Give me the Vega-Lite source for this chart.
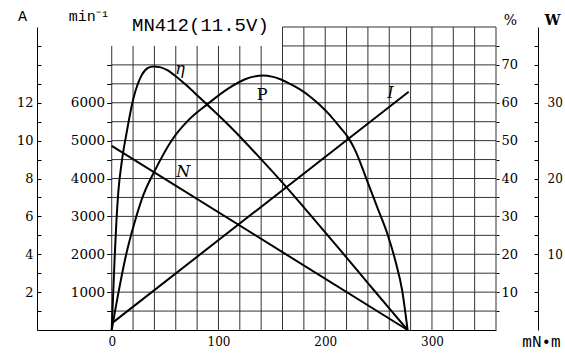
{
  "$schema": "https://vega.github.io/schema/vega-lite/v6.json",
  "width": 459,
  "height": 303,
  "autosize": {"type": "none"},
  "padding": {"left": 37, "top": 27, "right": 69, "bottom": 26},
  "background": "white",
  "config": {
    "view": {"stroke": null},
    "axis": {"labelFont": "DejaVu Serif", "labelColor": "black", "domainColor": "black", "tickColor": "black", "grid": false, "titleColor": "black", "titleFontWeight": "normal"}
  },
  "title": {"text": "MN412(11.5V)", "anchor": "start", "frame": "group", "dx": 95, "dy": 37, "baseline": "alphabetic", "offset": -5, "font": "Liberation Mono", "fontSize": 19, "fontWeight": "normal", "color": "black"},
  "datasets": {
    "grid": [
      {"t0": 0, "t1": 0, "p0": 0, "p1": 75}, {"t0": 20, "t1": 20, "p0": 0, "p1": 75}, {"t0": 40, "t1": 40, "p0": 0, "p1": 75}, {"t0": 60, "t1": 60, "p0": 0, "p1": 75},
      {"t0": 80, "t1": 80, "p0": 0, "p1": 75}, {"t0": 100, "t1": 100, "p0": 0, "p1": 75}, {"t0": 120, "t1": 120, "p0": 0, "p1": 75}, {"t0": 140, "t1": 140, "p0": 0, "p1": 75},
      {"t0": 160, "t1": 160, "p0": 0, "p1": 80}, {"t0": 180, "t1": 180, "p0": 0, "p1": 80}, {"t0": 200, "t1": 200, "p0": 0, "p1": 80}, {"t0": 220, "t1": 220, "p0": 0, "p1": 80},
      {"t0": 240, "t1": 240, "p0": 0, "p1": 80}, {"t0": 260, "t1": 260, "p0": 0, "p1": 80}, {"t0": 280, "t1": 280, "p0": 0, "p1": 80}, {"t0": 300, "t1": 300, "p0": 0, "p1": 80},
      {"t0": 320, "t1": 320, "p0": 0, "p1": 80}, {"t0": 340, "t1": 340, "p0": 0, "p1": 80}, {"t0": 360, "t1": 360, "p0": 0, "p1": 80},
      {"t0": 0, "t1": 360, "p0": 5, "p1": 5}, {"t0": 0, "t1": 360, "p0": 10, "p1": 10}, {"t0": 0, "t1": 360, "p0": 15, "p1": 15}, {"t0": 0, "t1": 360, "p0": 20, "p1": 20},
      {"t0": 0, "t1": 360, "p0": 25, "p1": 25}, {"t0": 0, "t1": 360, "p0": 30, "p1": 30}, {"t0": 0, "t1": 360, "p0": 35, "p1": 35}, {"t0": 0, "t1": 360, "p0": 40, "p1": 40},
      {"t0": 0, "t1": 360, "p0": 45, "p1": 45}, {"t0": 0, "t1": 360, "p0": 50, "p1": 50}, {"t0": 0, "t1": 360, "p0": 55, "p1": 55}, {"t0": 0, "t1": 360, "p0": 60, "p1": 60},
      {"t0": 0, "t1": 360, "p0": 65, "p1": 65}, {"t0": 0, "t1": 360, "p0": 70, "p1": 70}, {"t0": 160, "t1": 360, "p0": 75, "p1": 75}, {"t0": 160, "t1": 360, "p0": 80, "p1": 80}
    ],
    "eff": [
      {"t": 0, "eff": 0}, {"t": 1.5, "eff": 10.6}, {"t": 2.8, "eff": 19.4}, {"t": 4.3, "eff": 28.2}, {"t": 6.2, "eff": 36.5},
      {"t": 9.4, "eff": 44.4}, {"t": 14.1, "eff": 52.3}, {"t": 20.3, "eff": 61.1}, {"t": 28.1, "eff": 67.3}, {"t": 34, "eff": 69.2},
      {"t": 39, "eff": 69.6}, {"t": 45, "eff": 69.4}, {"t": 52, "eff": 68.6}, {"t": 60, "eff": 67.0}, {"t": 70, "eff": 64.6},
      {"t": 80, "eff": 62.0}, {"t": 89, "eff": 59.6}, {"t": 100, "eff": 56.7}, {"t": 112, "eff": 53.4}, {"t": 124, "eff": 49.9},
      {"t": 136, "eff": 46.3}, {"t": 150, "eff": 42.0}, {"t": 164, "eff": 37.6}, {"t": 180, "eff": 32.4}, {"t": 200, "eff": 25.8},
      {"t": 220, "eff": 19.1}, {"t": 240, "eff": 12.4}, {"t": 260, "eff": 5.7}, {"t": 277.2, "eff": 0}
    ],
    "power": [
      {"t": 0, "w": 0}, {"t": 6.8, "w": 5.3}, {"t": 13.1, "w": 9.7}, {"t": 21.2, "w": 14.1}, {"t": 29.6, "w": 17.8},
      {"t": 40.6, "w": 21.1}, {"t": 56.3, "w": 25.05}, {"t": 71.9, "w": 27.7}, {"t": 89.1, "w": 29.75}, {"t": 109.4, "w": 31.9},
      {"t": 125, "w": 33.1}, {"t": 133, "w": 33.45}, {"t": 142, "w": 33.6}, {"t": 150, "w": 33.45}, {"t": 158, "w": 33.1},
      {"t": 167, "w": 32.5}, {"t": 176, "w": 31.8}, {"t": 186, "w": 30.8}, {"t": 195, "w": 29.7}, {"t": 204.8, "w": 28.3},
      {"t": 213, "w": 26.9}, {"t": 222, "w": 25.3}, {"t": 228, "w": 23.75}, {"t": 239, "w": 19.8}, {"t": 248.5, "w": 16.3},
      {"t": 258, "w": 12.8}, {"t": 265.6, "w": 9.2}, {"t": 272, "w": 5.3}, {"t": 277.2, "w": 0}
    ],
    "speed": [
      {"t": 0, "rpm": 4860}, {"t": 277.2, "rpm": 0}
    ],
    "current": [
      {"t": 0, "amp": 0.35}, {"t": 278.2, "amp": 12.58}
    ],
    "labels": [
      {"t": 64, "p": 69, "s": "η"}, {"t": 261, "p": 62.6, "s": "I"}, {"t": 67, "p": 41.7, "s": "N"}
    ],
    "labels2": [
      {"t": 141, "p": 62, "s": "P"}
    ]
  },
  "resolve": {"scale": {"y": "independent"}, "axis": {"y": "independent"}},
  "layer": [
    {
      "data": {"name": "grid"},
      "mark": {"type": "rule", "stroke": "#333333", "strokeWidth": 1},
      "encoding": {
        "x": {"field": "t0", "type": "quantitative", "scale": {"domain": [-70, 360], "nice": false, "zero": false},
          "axis": {"values": [0, 100, 200, 300], "tickSize": 0, "labelPadding": 6, "labelFontSize": 12, "labelFlush": false,
            "title": "mN•m", "titleFont": "Liberation Mono", "titleFontSize": 16, "titleX": 504, "titleY": 11, "titleAlign": "center", "titleBaseline": "middle", "titleAngle": 0}},
        "x2": {"field": "t1"},
        "y": {"field": "p0", "type": "quantitative", "scale": {"domain": [0, 80], "nice": false},
          "axis": {"orient": "right", "offset": 0, "domain": false, "values": [5, 10, 15, 20, 25, 30, 35, 40, 45, 50, 55, 60, 65, 70, 75],
            "labelExpr": "datum.value % 10 == 0 ? datum.label : ''", "tickSize": 3, "labelPadding": 2, "labelFontSize": 13,
            "title": "%", "titleFont": "DejaVu Serif", "titleFontSize": 14, "titleAngle": 0, "titleX": 14, "titleY": -7, "titleAlign": "center", "titleBaseline": "middle"}},
        "y2": {"field": "p1"}
      }
    },
    {
      "data": {"name": "labels"},
      "mark": {"type": "text", "font": "DejaVu Serif", "fontSize": 16, "fontStyle": "italic", "align": "center", "baseline": "middle"},
      "encoding": {
        "x": {"field": "t", "type": "quantitative"},
        "y": {"field": "p", "type": "quantitative", "scale": {"domain": [0, 80], "nice": false}, "axis": null},
        "text": {"field": "s"}
      }
    },
    {
      "data": {"name": "labels2"},
      "mark": {"type": "text", "font": "DejaVu Serif", "fontSize": 16, "align": "center", "baseline": "middle"},
      "encoding": {
        "x": {"field": "t", "type": "quantitative"},
        "y": {"field": "p", "type": "quantitative", "scale": {"domain": [0, 80], "nice": false}, "axis": null},
        "text": {"field": "s"}
      }
    },
    {
      "data": {"name": "eff"},
      "mark": {"type": "line", "color": "black", "strokeWidth": 2, "interpolate": "monotone"},
      "encoding": {
        "x": {"field": "t", "type": "quantitative"},
        "y": {"field": "eff", "type": "quantitative", "scale": {"domain": [0, 80], "nice": false}, "axis": null}
      }
    },
    {
      "data": {"name": "power"},
      "mark": {"type": "line", "color": "black", "strokeWidth": 2, "interpolate": "monotone"},
      "encoding": {
        "x": {"field": "t", "type": "quantitative"},
        "y": {"field": "w", "type": "quantitative", "scale": {"domain": [0, 40], "nice": false},
          "axis": {"orient": "right", "offset": 42, "domain": true, "values": [2.5, 5, 7.5, 10, 12.5, 15, 17.5, 20, 22.5, 25, 27.5, 30, 32.5, 35, 37.5],
            "labelExpr": "datum.value % 10 == 0 ? datum.label : ''", "tickSize": -4, "labelPadding": 13, "labelFontSize": 12,
            "title": "W", "titleFont": "DejaVu Serif", "titleFontSize": 14, "titleFontWeight": "bold", "titleAngle": 0, "titleX": 14, "titleY": -7, "titleAlign": "center", "titleBaseline": "middle"}}
      }
    },
    {
      "data": {"name": "speed"},
      "mark": {"type": "line", "color": "black", "strokeWidth": 2},
      "encoding": {
        "x": {"field": "t", "type": "quantitative"},
        "y": {"field": "rpm", "type": "quantitative", "scale": {"domain": [0, 8000], "nice": false},
          "axis": {"orient": "left", "offset": -74.7, "domain": false, "values": [500, 1000, 1500, 2000, 2500, 3000, 3500, 4000, 4500, 5000, 5500, 6000, 6500, 7000],
            "labelExpr": "datum.value % 1000 == 0 && datum.value <= 6000 ? datum.value : ''", "tickSize": 5, "labelPadding": 2, "labelFontSize": 13.5,
            "title": "min⁻¹", "titleFont": "Liberation Mono", "titleFontSize": 15, "titleAngle": 0, "titleX": -23, "titleY": -12, "titleAlign": "center", "titleBaseline": "middle"}}
      }
    },
    {
      "data": {"name": "current"},
      "mark": {"type": "line", "color": "black", "strokeWidth": 2},
      "encoding": {
        "x": {"field": "t", "type": "quantitative"},
        "y": {"field": "amp", "type": "quantitative", "scale": {"domain": [0, 16], "nice": false},
          "axis": {"orient": "left", "offset": 0, "domain": true, "values": [1, 2, 3, 4, 5, 6, 7, 8, 9, 10, 11, 12, 13, 14, 15],
            "labelExpr": "datum.value % 2 == 0 && datum.value <= 12 ? datum.label : ''", "tickSize": -4, "labelPadding": 8, "labelFontSize": 13,
            "title": "A", "titleFont": "Liberation Mono", "titleFontSize": 15, "titleAngle": 0, "titleX": -15, "titleY": -12, "titleAlign": "center", "titleBaseline": "middle"}}
      }
    }
  ]
}
